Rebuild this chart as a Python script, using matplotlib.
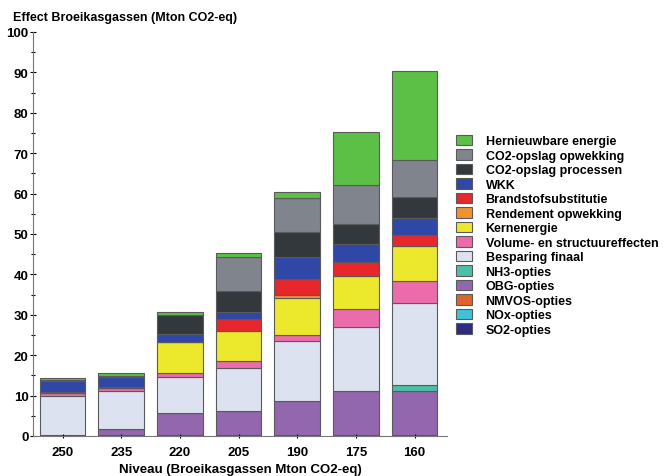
import numpy as np
import pandas as pd
import matplotlib
matplotlib.use('Agg')
import matplotlib.pyplot as plt
import matplotlib.ticker

# levels (x categories)
levels = ['250', '235', '220', '205', '190', '175', '160']

# stack order, bottom to top
series = [
    'SO2-opties', 'NOx-opties', 'NMVOS-opties', 'OBG-opties', 'NH3-opties',
    'Besparing finaal', 'Volume- en structuureffecten', 'Kernenergie',
    'Rendement opwekking', 'Brandstofsubstitutie', 'WKK',
    'CO2-opslag processen', 'CO2-opslag opwekking', 'Hernieuwbare energie',
]

so2         = [0.3, 0.3, 0.3, 0.3, 0.3, 0.3, 0.3]
nox         = [0.0, 0.0, 0.0, 0.0, 0.0, 0.0, 0.0]
nmvos       = [0.0, 0.0, 0.0, 0.0, 0.0, 0.0, 0.0]
obg         = [0.0, 1.4, 5.3, 5.8, 8.3, 10.7, 10.8]
nh3         = [0.0, 0.0, 0.0, 0.0, 0.0, 0.0, 1.5]
besparing   = [9.6, 9.4, 9.1, 10.6, 14.8, 15.9, 20.2]
volume      = [0.8, 0.8, 0.9, 1.8, 1.6, 4.4, 5.5]
kern        = [0.0, 0.0, 7.7, 7.5, 9.2, 8.4, 8.7]
rendement   = [0.0, 0.0, 0.0, 0.0, 0.7, 0.0, 0.0]
brandstof   = [0.2, 0.3, 0.0, 2.9, 3.9, 3.3, 2.8]
wkk         = [2.8, 2.5, 1.9, 1.8, 5.6, 4.5, 4.2]
co2_proc    = [0.2, 0.2, 4.8, 5.1, 6.1, 5.0, 5.1]
co2_opw     = [0.0, 0.0, 0.0, 8.6, 8.4, 9.6, 9.3]
hernieuwbaar = [0.5, 0.6, 0.6, 1.0, 1.5, 13.2, 21.9]

colors = [
    '#2b2c82', '#3fc2d8', '#e2622c', '#9367ad', '#4cc0a6',
    '#dde2f0', '#ec6bab', '#ece82b', '#f0922e', '#e8272b',
    '#2f48a8', '#33383c', '#80848c', '#5cbf46',
]

datasheet = np.column_stack((so2, nox, nmvos, obg, nh3, besparing, volume, kern,
                             rendement, brandstof, wkk, co2_proc, co2_opw, hernieuwbaar))
df = pd.DataFrame(datasheet, columns=series, index=levels)

fontSize = 9
plt.rcParams.update({'font.size': fontSize, 'font.family': 'Liberation Sans',
                     'font.weight': 'bold'})

fig = plt.figure(figsize=(6.65, 4.77), dpi=100)
ax = fig.add_axes([0.05, 0.084, 0.622, 0.847])

bottom = np.zeros(len(levels))
x = np.arange(len(levels))
for name, clr in zip(series, colors):
    vals = df[name].values
    ax.bar(x, vals, bottom=bottom, width=0.78, color=clr, edgecolor='#5a5a5a',
           linewidth=0.8, label=name)
    bottom += vals

ax.set_xlim(-0.5, 6.55)
ax.set_ylim(0, 100)
ax.set_xticks(x)
ax.set_xticklabels(levels, fontsize=fontSize + 0.5, fontweight='bold')
ax.yaxis.set_major_locator(matplotlib.ticker.MultipleLocator(10))
ax.yaxis.set_minor_locator(matplotlib.ticker.MultipleLocator(5))
ax.tick_params(axis='y', which='major', direction='inout', length=5, width=0.8,
               labelsize=fontSize + 0.5, pad=1)
ax.tick_params(axis='y', which='minor', direction='inout', length=3, width=0.8)
ax.tick_params(axis='x', direction='inout', length=3, width=0.8, pad=6)
for lbl in ax.get_yticklabels():
    lbl.set_fontweight('bold')
ax.spines['top'].set_visible(False)
ax.spines['right'].set_visible(False)
ax.spines['left'].set_color('#777777')
ax.spines['bottom'].set_color('#777777')

ax.set_xlabel('Niveau (Broeikasgassen Mton CO2-eq)', fontsize=fontSize + 0.5,
              fontweight='bold', labelpad=3)
fig.text(0.02, 0.963, 'Effect Broeikasgassen (Mton CO2-eq)', fontsize=fontSize,
         fontweight='bold', va='center', ha='left')

handles, labels = ax.get_legend_handles_labels()
fig.legend(handles[::-1], labels[::-1],
           loc='upper left', bbox_to_anchor=(0.6775, 0.726),
           frameon=False, prop={'size': fontSize, 'weight': 'bold'},
           handlelength=1.3, handleheight=0.9, labelspacing=0.16,
           handletextpad=1.1, borderaxespad=0.)

fig.savefig('out.png', dpi=100, facecolor='white')
